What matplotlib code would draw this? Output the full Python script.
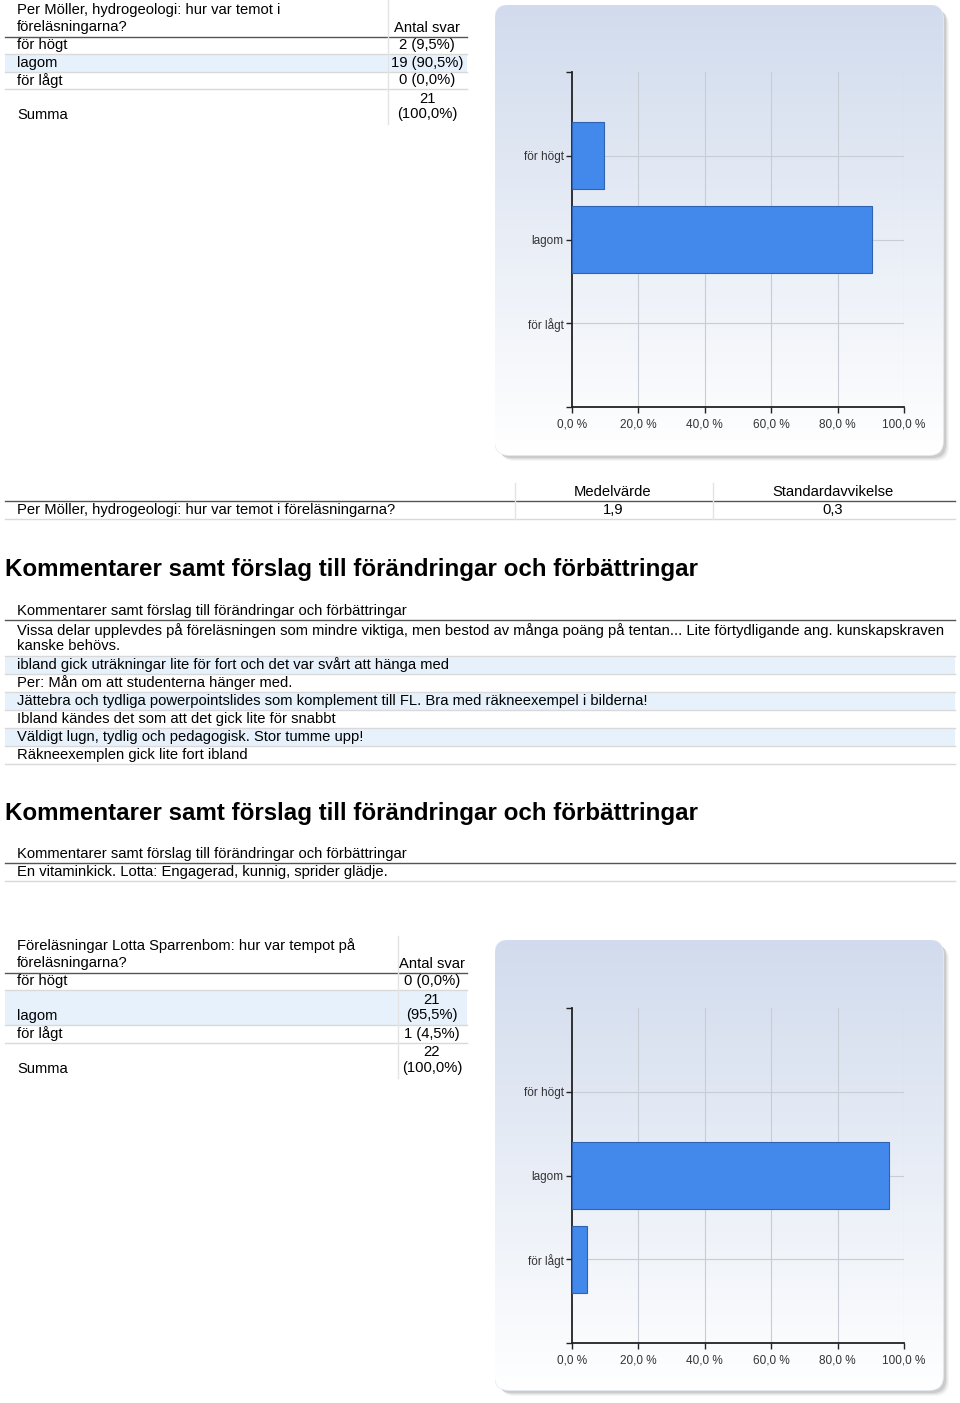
import numpy as np
import matplotlib
matplotlib.use("Agg")
import matplotlib.pyplot as plt
from matplotlib.patches import FancyBboxPatch, Rectangle

# --- data -------------------------------------------------------------
categories = ["för högt", "lagom", "för lågt"]

q1_title = "Per Möller, hydrogeologi: hur var temot i\nföreläsningarna?"
q1_counts = [2, 19, 0]
q1_pct = [9.5, 90.5, 0.0]
q1_total = 21
q1_name = "Per Möller, hydrogeologi: hur var temot i föreläsningarna?"
q1_mean = "1,9"
q1_std = "0,3"

comment_head = "Kommentarer samt förslag till förändringar och förbättringar"
comments1 = [
    "Vissa delar upplevdes på föreläsningen som mindre viktiga, men bestod av många poäng på tentan... Lite förtydligande ang. kunskapskraven\nkanske behövs.",
    "ibland gick uträkningar lite för fort och det var svårt att hänga med",
    "Per: Mån om att studenterna hänger med.",
    "Jättebra och tydliga powerpointslides som komplement till FL. Bra med räkneexempel i bilderna!",
    "Ibland kändes det som att det gick lite för snabbt",
    "Väldigt lugn, tydlig och pedagogisk. Stor tumme upp!",
    "Räkneexemplen gick lite fort ibland",
]
comments2 = ["En vitaminkick. Lotta: Engagerad, kunnig, sprider glädje."]

q2_title = "Föreläsningar Lotta Sparrenbom: hur var tempot på\nföreläsningarna?"
q2_counts = [0, 21, 1]
q2_pct = [0.0, 95.5, 4.5]
q2_total = 22

x_ticks = [0, 20, 40, 60, 80, 100]

# --- helpers ----------------------------------------------------------
W, H = 960, 1403
FONT = "Liberation Sans"
FS = 10.6
DARK = "#3a3a3a"
LIGHT = "#d9d9d9"
BLUE_ROW = "#e7f1fb"
LINE = 17.5

fig = plt.figure(figsize=(W / 100, H / 100), dpi=100)
fig.patch.set_facecolor("white")


def px(x):
    return x / W


def py(y):
    return 1 - y / H


def txt(x, y, s, ha="left", **kw):
    fig.text(px(x), py(y), s, ha=ha, va="center", fontsize=kw.pop("fontsize", FS),
             family=FONT, color=kw.pop("color", "black"), linespacing=1.15, **kw)


def hline(y, x0, x1, color=LIGHT, lw=1.0):
    fig.add_artist(plt.Line2D([px(x0), px(x1)], [py(y), py(y)], color=color, lw=lw))


def vline(x, y0, y1, color="#e4e4e4", lw=1.0):
    fig.add_artist(plt.Line2D([px(x), px(x)], [py(y0), py(y1)], color=color, lw=lw))


def band(y0, y1, x0, x1, color=BLUE_ROW):
    fig.add_artist(Rectangle((px(x0), py(y1)), px(x1) - px(x0), (y1 - y0) / H,
                             transform=fig.transFigure, color=color, lw=0, zorder=0))


def fmt(c, p):
    return "%d (%s%%)" % (c, ("%.1f" % p).replace(".", ","))


def count_table(top, title, counts, pcts, total, sep_x, val_x, wrap_len):
    # header: title on two lines, "Antal svar" on the last line
    t1, t2 = title.split("\n")
    txt(17, top, t1)
    txt(17, top + LINE, t2)
    txt(val_x, top + LINE, "Antal svar", ha="center")
    y = top + LINE + 9
    hline(y, 5, 467, color="#555555", lw=1.0)
    rows = [(c, fmt(n, p)) for c, n, p in zip(categories, counts, pcts)]
    rows.append(("Summa", fmt(total, 100.0)))
    for i, (lab, val) in enumerate(rows):
        if len(val) > wrap_len:
            val = val.replace(" ", "\n", 1)
        nl = val.count("\n") + 1
        h = LINE * nl
        if i == 1:
            band(y, y + h, 5, 467)
        last = y + h - LINE / 2
        txt(17, last, lab)
        txt(val_x, y + h / 2, val, ha="center")
        y += h
        if i < len(rows) - 1:
            hline(y, 5, 467)
    vline(sep_x, top - 10, y)
    return y


def comment_block(top, rows):
    txt(5, top, comment_head, fontsize=17.4, fontweight="bold")
    y = top + 41
    txt(17, y, comment_head)
    y += 9
    hline(y, 5, 955, color="#555555")
    for i, r in enumerate(rows):
        nl = r.count("\n") + 1
        h = 18 * nl
        if i % 2 == 1:
            band(y, y + h, 5, 955)
        txt(17, y + h / 2, r)
        y += h
        hline(y, 5, 955)


def chart_panel(x0, y0, x1, y1, ax_box, pcts):
    # rounded gradient panel with soft shadow
    bg = fig.add_axes([px(x0), py(y1 + 8), px(x1 + 8) - px(x0), (y1 + 8 - y0) / H])
    bg.set_xlim(x0, x1 + 8)
    bg.set_ylim(y1 + 8, y0)
    bg.axis("off")
    for k, a in enumerate([0.06, 0.08, 0.11, 0.15]):
        off = 6 - k
        sh = FancyBboxPatch((x0 + off, y0 + off), x1 - x0, y1 - y0,
                            boxstyle="round,pad=0,rounding_size=14",
                            fc="#6a6a6a", ec="none", alpha=a)
        bg.add_patch(sh)
    panel = FancyBboxPatch((x0, y0), x1 - x0, y1 - y0,
                           boxstyle="round,pad=0,rounding_size=14",
                           fc="none", ec="#e8edf4", lw=1.2)
    bg.add_patch(panel)
    grad = np.linspace(0, 1, 256)[:, None]
    top_c = np.array([0.82, 0.86, 0.93])
    bot_c = np.array([1.0, 1.0, 1.0])
    img = top_c[None, None, :] * (1 - grad[..., None]) + bot_c[None, None, :] * grad[..., None]
    im = bg.imshow(img, extent=(x0, x1, y1, y0), aspect="auto", zorder=1)
    im.set_clip_path(panel)

    ax = fig.add_axes([px(ax_box[0]), py(ax_box[3]), px(ax_box[2]) - px(ax_box[0]),
                       (ax_box[3] - ax_box[1]) / H])
    ax.patch.set_alpha(0)
    ypos = np.arange(1, len(categories) + 1)
    lws = [0.8 if v > 0 else 0 for v in pcts]
    ax.barh(ypos, pcts, height=0.8, color="#4389ec", edgecolor="#2f62b0", lw=lws, zorder=3)
    ax.set_xlim(0, 100)
    ax.set_ylim(4, 0)
    ax.set_xticks(x_ticks)
    ax.set_xticklabels([("%.1f %%" % v).replace(".", ",") for v in x_ticks])
    ax.set_yticks([0, 1, 2, 3, 4])
    ax.set_yticklabels([""] + categories + [""])
    for v in x_ticks[1:]:
        ax.axvline(v, color="#c8ccd4", lw=0.8, zorder=1)
    for v in ypos:
        ax.axhline(v, color="#c8ccd4", lw=0.8, zorder=1)
    for s in ["top", "right"]:
        ax.spines[s].set_visible(False)
    ax.spines["left"].set_color("#222222")
    ax.spines["bottom"].set_color("#222222")
    ax.spines["left"].set_linewidth(1.3)
    ax.spines["bottom"].set_linewidth(1.3)
    ax.tick_params(axis="both", direction="out", length=4, width=1, color="#222222",
                   labelsize=8.5, labelcolor="#333333", pad=2)
    ax.tick_params(axis="x", pad=4)
    for lab in ax.get_xticklabels() + ax.get_yticklabels():
        lab.set_family(FONT)


# --- first question ---------------------------------------------------
count_table(10, q1_title, q1_counts, q1_pct, q1_total, 388, 427, 10)
chart_panel(495, 5, 943, 455, (572, 72, 904, 407), q1_pct)

# mean / std table
txt(613, 492, "Medelvärde", ha="center")
txt(833, 492, "Standardavvikelse", ha="center")
hline(501, 5, 955, color="#555555")
txt(17, 510, q1_name)
txt(613, 510, q1_mean, ha="center")
txt(833, 510, q1_std, ha="center")
hline(519, 5, 955)
vline(515, 483, 519)
vline(713, 483, 519)

# --- comments ---------------------------------------------------------
comment_block(570, comments1)
comment_block(813, comments2)

# --- second question --------------------------------------------------
count_table(946, q2_title, q2_counts, q2_pct, q2_total, 398, 432, 9)
chart_panel(495, 940, 943, 1390, (572, 1008, 904, 1343), q2_pct)

fig.savefig("out.png", dpi=100)
